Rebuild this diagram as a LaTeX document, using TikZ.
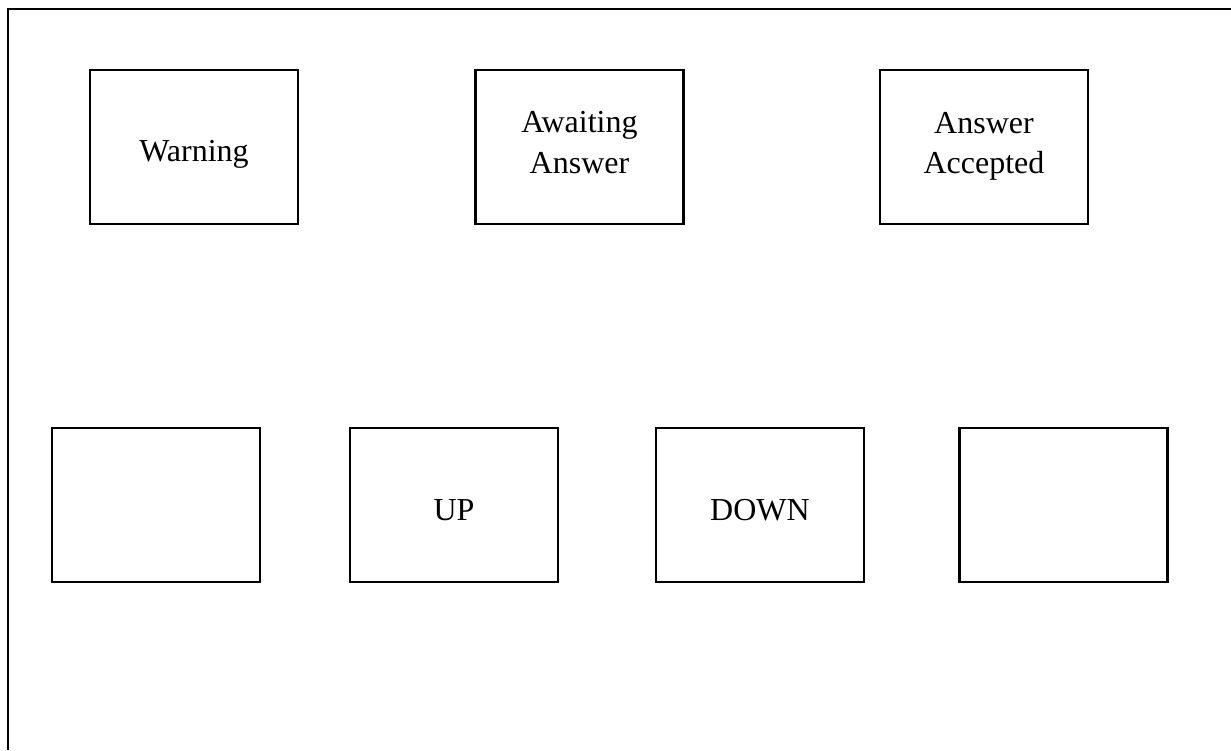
\documentclass[tikz,border=0pt]{standalone}
\usepackage{fontspec}
\setmainfont{Liberation Serif}
\begin{document}
\begin{tikzpicture}[x=0.75pt,y=-0.75pt,
  box/.style={draw=black, line width=1.7pt, rectangle, inner sep=0pt, outer sep=0pt,
    minimum width=156pt, minimum height=115.5pt},
  lbl/.style={inner sep=0pt, anchor=base, font=\fontsize{24pt}{29pt}\selectfont}]
\useasboundingbox (0,0) rectangle (1231,750);
% outer frame (only top and left edges visible)
\coordinate (fb) at (8,750);
\coordinate (fc) at (8,9);
\coordinate (fr) at (1231,9);
\draw[line width=1.7pt] (fb) -- (fc) -- (fr);
% top row
\node[box] (warn) at (194,147) {};
\node[box] (await) at (579.5,147) {};
\node[box] (acc) at (984,147) {};
% bottom row
\node[box] (b1) at (156,505) {};
\node[box] (up) at (454,505) {};
\node[box] (down) at (760,505) {};
\node[box] (b4) at (1063.5,505) {};
% labels
\node[lbl] (twarn) at (194,161) {Warning};
\node[lbl] (tawait1) at (579.5,132) {Awaiting};
\node[lbl] (tawait2) at (579.5,173) {Answer};
\node[lbl] (tacc1) at (984,133) {Answer};
\node[lbl] (tacc2) at (984,173) {Accepted};
\node[lbl] (tup) at (454,520) {UP};
\node[lbl] (tdown) at (760,520) {DOWN};
\end{tikzpicture}
\end{document}
